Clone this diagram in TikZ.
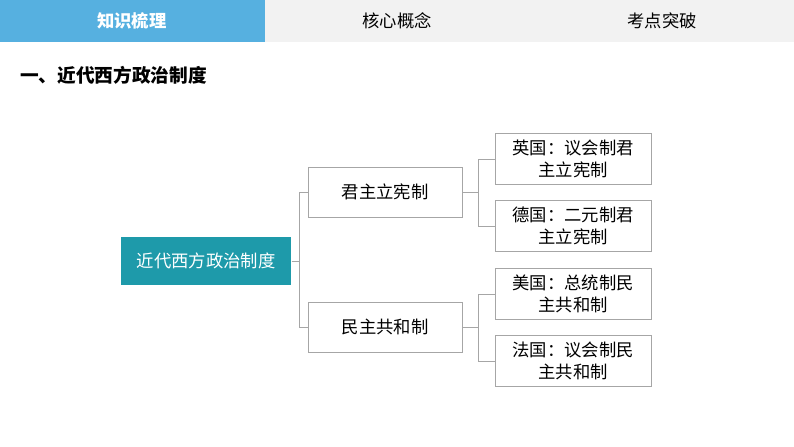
\documentclass[tikz,border=0pt]{standalone}
\usepackage{fontspec}
\newfontfamily\cjk{Noto Sans CJK SC}
\usetikzlibrary{positioning}
\definecolor{tabblue}{HTML}{56B0E0}
\definecolor{tabgray}{HTML}{F2F2F2}
\definecolor{rootteal}{HTML}{1E9AAA}
\definecolor{boxline}{HTML}{A6A6A6}

\begin{document}
\begin{tikzpicture}[
        x=0.75pt, y=-0.75pt,
        every node/.style={font=\cjk\fontsize{13}{16}\selectfont, align=center, inner sep=0pt},
        catbox/.style={draw=boxline, minimum width=115.5pt, minimum height=37.5pt},
        leafbox/.style={draw=boxline, minimum width=117pt, minimum height=38pt, text width=108pt},
        link/.style={draw=boxline, thin}
        ]
        \useasboundingbox (0,0) rectangle (794,447);

        % Tab bar
        \fill[tabgray] (265,0) rectangle (794,42);
        \fill[tabblue] (0,0) rectangle (265,42);
        \node[font=\cjk\bfseries\fontsize{13}{16}\selectfont, text=white] (tab_A) at (132,21) {知识梳理};
        \node (tab_B) at (397,21) {核心概念};
        \node (tab_C) at (662,21) {考点突破};

        % Title
        \node[font=\cjk\bfseries\fontsize{14}{17}\selectfont, anchor=west] (title) at (20,75) {一、近代西方政治制度};

        % Nodes
        \node[fill=rootteal, text=white, minimum width=128pt, minimum height=36pt, text width=124pt] (root) at (206,261) {近代西方政治制度};
        \node[catbox] (monarchy) at (385,192) {君主立宪制};
        \node[catbox] (republic) at (385,327) {民主共和制};
        \node[leafbox] (uk) at (573,159) {英国：议会制君\\主立宪制};
        \node[leafbox] (de) at (573,226) {德国：二元制君\\主立宪制};
        \node[leafbox] (us) at (573,294) {美国：总统制民\\主共和制};
        \node[leafbox] (fr) at (573,361) {法国：议会制民\\主共和制};

        % Connectors
        \draw[link] (root.east) -- ++(8,0) |- (monarchy.west);
        \draw[link] (root.east) -- ++(8,0) |- (republic.west);
        \draw[link] (monarchy.east) -- ++(16,0) |- (uk.west);
        \draw[link] (monarchy.east) -- ++(16,0) |- (de.west);
        \draw[link] (republic.east) -- ++(16,0) |- (us.west);
        \draw[link] (republic.east) -- ++(16,0) |- (fr.west);
\end{tikzpicture}
\end{document}
